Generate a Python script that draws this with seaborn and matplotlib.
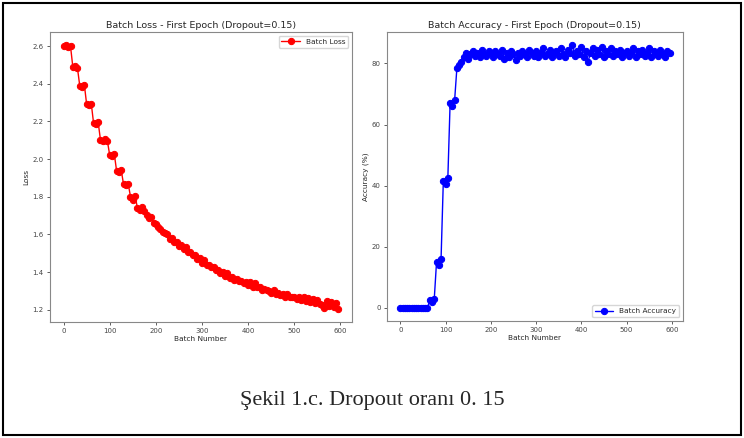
import numpy as np
import pandas as pd
import matplotlib
matplotlib.use("Agg")
import matplotlib.pyplot as plt
import seaborn as sns
from matplotlib.patches import Rectangle

batches = list(range(0, 600, 5))

loss = [
    2.600, 2.605, 2.595, 2.600,
    2.490, 2.495, 2.485,
    2.390, 2.385, 2.395,
    2.290, 2.285, 2.295,
    2.190, 2.185, 2.195,
    2.100, 2.095, 2.105, 2.095,
    2.020, 2.015, 2.025,
    1.935, 1.930, 1.940,
    1.865, 1.860, 1.870,
    1.800, 1.785, 1.805,
    1.740, 1.730, 1.745, 1.725,
    1.705, 1.685, 1.690, 1.660,
    1.655, 1.640, 1.630, 1.615,
    1.605, 1.600, 1.575, 1.580,
    1.560, 1.560, 1.540, 1.545,
    1.520, 1.535, 1.505, 1.505,
    1.490, 1.490, 1.470, 1.475,
    1.450, 1.465, 1.435, 1.440,
    1.425, 1.425, 1.410, 1.410,
    1.395, 1.400, 1.380, 1.395,
    1.370, 1.375, 1.360, 1.365,
    1.350, 1.355, 1.340, 1.345,
    1.330, 1.345, 1.320, 1.340,
    1.320, 1.320, 1.305, 1.310,
    1.305, 1.300, 1.290, 1.305,
    1.285, 1.290, 1.280, 1.285,
    1.270, 1.285, 1.265, 1.270,
    1.265, 1.255, 1.270, 1.250,
    1.265, 1.245, 1.260, 1.240,
    1.255, 1.235, 1.250, 1.230,
    1.225, 1.210, 1.245, 1.220,
    1.240, 1.215, 1.235, 1.205,
]

accuracy = [
    0.0, 0.0, 0.0, 0.0, 0.0, 0.0, 0.0, 0.0, 0.0, 0.0, 0.0, 0.0, 0.0,
    2.5, 2.0, 3.0,
    15.0, 14.0, 16.0,
    41.5, 40.5, 42.5,
    67.0, 66.0, 68.0,
    78.5, 79.5, 80.5,
    82.0, 83.5, 81.5, 83.0, 84.0, 82.5, 83.5, 82.0, 84.5, 83.0, 82.5, 84.0,
    83.5, 82.0, 84.0, 83.0, 82.5, 84.5, 81.5, 83.5, 82.0, 84.0,
    83.0, 81.0, 83.5, 82.5, 84.0, 83.0, 82.0, 84.5, 83.5, 82.5,
    84.0, 82.0, 83.5, 85.0, 82.5, 83.0, 84.5, 82.0, 83.5, 84.0,
    82.5, 85.0, 83.0, 82.0, 84.5, 83.5, 86.0, 82.5, 84.0, 83.0,
    85.5, 82.0, 84.0, 80.5, 83.5, 85.0, 82.5, 84.5, 83.0, 85.5,
    82.0, 84.0, 83.0, 85.0, 82.5, 84.0, 83.0, 84.5, 82.0, 83.5,
    84.0, 82.5, 83.5, 85.0, 82.0, 84.0, 83.0, 84.5, 82.5, 83.5,
    85.0, 82.0, 84.0, 83.0, 82.5, 84.5, 83.0, 82.0, 84.0, 83.5,
]

df = pd.DataFrame({"batch": batches, "loss": loss, "acc": accuracy})

sns.set_style("ticks")
plt.rcParams["font.family"] = ["DejaVu Sans"]

fig = plt.figure(figsize=(7.44, 4.38), dpi=100)
ax1 = fig.add_axes([0.067, 0.265, 0.406, 0.662])
ax2 = fig.add_axes([0.520, 0.267, 0.398, 0.660])

sns.lineplot(data=df, x="batch", y="loss", ax=ax1, color="red", marker="o",
             markersize=4.5, markeredgecolor="red", linewidth=1.0, label="Batch Loss")
sns.lineplot(data=df, x="batch", y="acc", ax=ax2, color="blue", marker="o",
             markersize=4.5, markeredgecolor="blue", linewidth=1.0, label="Batch Accuracy")

ax1.set_title("Batch Loss - First Epoch (Dropout=0.15)", fontsize=6.8, pad=3)
ax2.set_title("Batch Accuracy - First Epoch (Dropout=0.15)", fontsize=6.8, pad=3)
ax1.set_xlabel("Batch Number", fontsize=5.3, labelpad=1.5)
ax2.set_xlabel("Batch Number", fontsize=5.3, labelpad=1.5)
ax1.set_ylabel("Loss", fontsize=5.3, labelpad=2)
ax2.set_ylabel("Accuracy (%)", fontsize=5.3, labelpad=2)
ax1.set_xticks(range(0, 700, 100))
ax2.set_xticks(range(0, 700, 100))
ax1.set_yticks([1.2, 1.4, 1.6, 1.8, 2.0, 2.2, 2.4, 2.6])
ax2.set_yticks([0, 20, 40, 60, 80])

for ax in (ax1, ax2):
    ax.tick_params(labelsize=5, length=2.5, width=0.6, pad=2, colors="#444444")
    for s in ax.spines.values():
        s.set_color("#888888")
        s.set_linewidth(0.8)

ax1.legend(loc="upper right", fontsize=5.3, frameon=True, handlelength=2.5)
ax2.legend(loc="lower right", fontsize=5.3, frameon=True, handlelength=2.5)

fig.text(0.5, 1 - 401 / 438, "Şekil 1.c. Dropout oranı 0. 15",
         family="Liberation Serif", fontsize=16, ha="center", va="center")

fig.patches.append(Rectangle((0.004, 0.006), 0.992, 0.988, transform=fig.transFigure,
                             fill=False, edgecolor="black", linewidth=1.5))

fig.savefig("out.png", dpi=100)
